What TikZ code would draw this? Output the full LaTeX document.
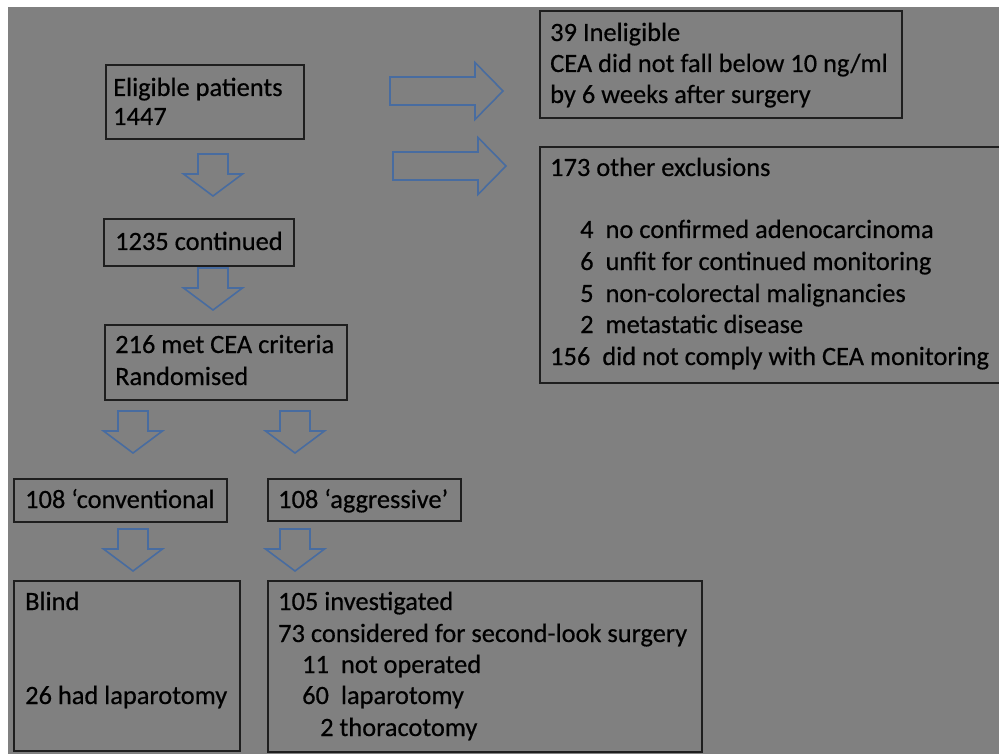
\documentclass[tikz,border=0pt]{standalone}
\usepackage{fontspec}
\setmainfont{Carlito}
\newfontfamily\diagfont{Carlito}[FakeBold=0.5]
\definecolor{bggray}{RGB}{128,128,128}
\definecolor{boxline}{RGB}{30,30,30}
\definecolor{arrowblue}{RGB}{72,108,160}
\begin{document}
\begin{tikzpicture}[x=1pt,y=-1pt,
  box/.style={draw=boxline,line width=1.6pt,rectangle,inner sep=0pt,anchor=north west},
  txt/.style={anchor=base west,inner sep=0pt,font=\diagfont\fontsize{26.4}{31}\selectfont,text=black},
  arrowline/.style={draw=arrowblue,line width=1.6pt,line join=miter},
  downarrow/.pic={\draw[arrowline] (-15,0) -- (15,0) -- (15,20) -- (29.5,20) -- (0,42) -- (-29.5,20) -- (-15,20) -- cycle;},
  rightarrow/.pic={\draw[arrowline] (0,-14) -- (85,-14) -- (85,-28.5) -- (113,0) -- (85,28.5) -- (85,14) -- (0,14) -- cycle;}
]
\useasboundingbox (0,0) rectangle (999,754);
\begin{scope}
\clip (0,0) rectangle (999,754);
\fill[white] (0,0) rectangle (999,754);
\fill[bggray] (8,7) rectangle (999,754);

% boxes
\node[box,minimum width=198pt,minimum height=74pt] (elig) at (105,64) {};
\node[box,minimum width=190pt,minimum height=47pt] (cont) at (103,218) {};
\node[box,minimum width=242pt,minimum height=75pt] (rand) at (104,324) {};
\node[box,minimum width=362pt,minimum height=107pt] (inel) at (539,10) {};
\node[box,minimum width=463pt,minimum height=236pt] (excl) at (539,146) {};
\node[box,minimum width=213pt,minimum height=43pt] (conv) at (13,478) {};
\node[box,minimum width=193pt,minimum height=42pt] (aggr) at (267,478) {};
\node[box,minimum width=226pt,minimum height=170pt] (blind) at (13,580) {};
\node[box,minimum width=434pt,minimum height=171pt] (inv) at (267,580) {};

% block arrows
\pic at (213,154) {downarrow};
\pic at (213,268) {downarrow};
\pic at (133,411) {downarrow};
\pic at (295,411) {downarrow};
\pic at (133,529) {downarrow};
\pic at (295,529) {downarrow};
\pic at (390,91) {rightarrow};
\pic at (393,166) {rightarrow};

% texts
\node[txt] (t1) at (113,96) {Eligible patients};
\node[txt] (t2) at (113,125) {1447};
\node[txt] (t3) at (115,250) {1235 continued};
\node[txt] (t4) at (115,353) {216 met CEA criteria};
\node[txt] (t5) at (115,385) {Randomised};

\node[txt] (t6) at (550,41) {39 Ineligible};
\node[txt] (t7) at (550,72) {CEA did not fall below 10 ng/ml};
\node[txt] (t8) at (550,103) {by 6 weeks after surgery};

\node[txt] (t9) at (550,176) {173 other exclusions};
\node[txt] (t10) at (580,238) {4\hspace{12pt}no confirmed adenocarcinoma};
\node[txt] (t11) at (580,270) {6\hspace{12pt}unfit for continued monitoring};
\node[txt] (t12) at (580,302) {5\hspace{12pt}non-colorectal malignancies};
\node[txt] (t13) at (580,333) {2\hspace{12pt}metastatic disease};
\node[txt] (t14) at (550,365) {156\hspace{12pt}did not comply with CEA monitoring};

\node[txt] (t15) at (25,508) {108 ‘conventional};
\node[txt] (t16) at (278,508) {108 ‘aggressive’};

\node[txt] (t17) at (25,610) {Blind};
\node[txt] (t18) at (25,704) {26 had laparotomy};

\node[txt] (t19) at (278,610) {105 investigated};
\node[txt] (t20) at (278,642) {73 considered for second-look surgery};
\node[txt] (t21) at (302,673) {11\hspace{12pt}not operated};
\node[txt] (t22) at (302,704) {60\hspace{12pt}laparotomy};
\node[txt] (t23) at (320,736) {2 thoracotomy};
\end{scope}
\end{tikzpicture}
\end{document}
